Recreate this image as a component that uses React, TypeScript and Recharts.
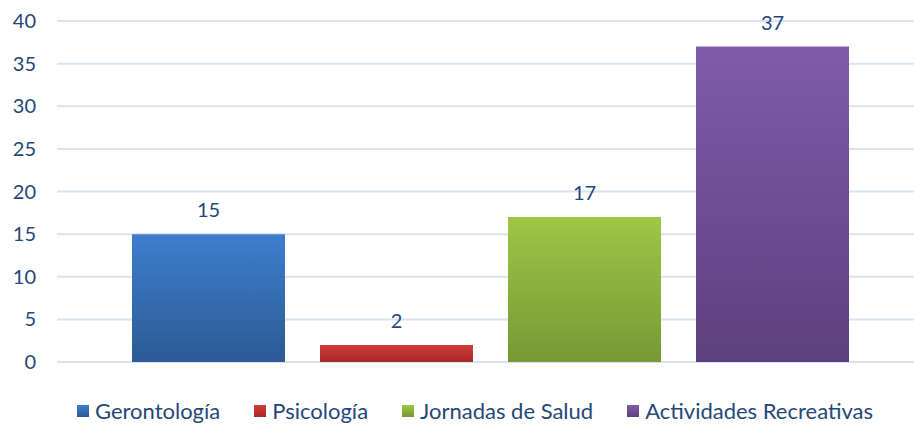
import { BarChart, Bar, XAxis, YAxis, CartesianGrid, Legend, LabelList } from 'recharts';

const seriesNames = ['Gerontología', 'Psicología', 'Jornadas de Salud', 'Actividades Recreativas'];
const seriesValues = [15, 2, 17, 37];
const yTicks = [0, 5, 10, 15, 20, 25, 30, 35, 40];

const gradients = [
    { id: 'gBlue', top: '#3D7ECC', bottom: '#2C5B95' },
    { id: 'gRed', top: '#D23C37', bottom: '#A52A27' },
    { id: 'gGreen', top: '#9EC646', bottom: '#769934' },
    { id: 'gPurple', top: '#7F5BA9', bottom: '#5D407F' },
];

const textColor = '#254878';
const font = 'Lato, "Open Sans", sans-serif';

const row: Record<string, string | number> = { name: 'Servicios' };
seriesNames.forEach((n, i) => {
    row[n] = seriesValues[i];
});
const chartData = [row];

// legend in series order (recharts sorts payload by name otherwise)
const LegendContent = () => {
    return (
        <div
            style={{
                height: 63,
                display: 'flex',
                alignItems: 'flex-end',
                paddingLeft: 77,
                boxSizing: 'border-box',
                paddingBottom: 1,
            }}
        >
            {seriesNames.map((name, idx) => (
                <div
                    key={`leg-${idx}`}
                    style={{ display: 'flex', alignItems: 'center', marginRight: 34 }}
                >
                    <span
                        style={{
                            width: 12,
                            height: 12,
                            marginRight: 6,
                            background: `linear-gradient(${gradients[idx].top}, ${gradients[idx].bottom})`,
                            display: 'inline-block',
                        }}
                    />
                    <span style={{ fontSize: 22, color: textColor, fontFamily: font }}>{name}</span>
                </div>
            ))}
        </div>
    );
};

const App = () => {
    return (
        <div
            style={{
                position: 'absolute',
                left: 0,
                top: 0,
                width: 914,
                height: 425,
                overflow: 'hidden',
                background: '#fff',
                fontFamily: font,
            }}
        >
            <BarChart
                width={923}
                height={425}
                data={chartData}
                margin={{ top: 21, right: 0, bottom: 0, left: 0 }}
                barSize={153}
                barGap={35}
            >
                <defs>
                    {gradients.map((g) => (
                        <linearGradient key={g.id} id={g.id} x1='0' y1='0' x2='0' y2='1'>
                            <stop offset='0%' stopColor={g.top} />
                            <stop offset='100%' stopColor={g.bottom} />
                        </linearGradient>
                    ))}
                </defs>
                <CartesianGrid vertical={false} stroke='#DAE3F1' strokeWidth={2} />
                <XAxis dataKey='name' hide />
                <YAxis
                    domain={[0, 40]}
                    ticks={yTicks}
                    axisLine={false}
                    tickLine={false}
                    width={57}
                    tickMargin={15}
                    tick={{ fill: textColor, fontSize: 20, fontFamily: font }}
                />
                <Legend verticalAlign='bottom' content={<LegendContent />} />
                {seriesNames.map((n, i) => (
                    <Bar key={n} dataKey={n} fill={`url(#${gradients[i].id})`} isAnimationActive={false}>
                        <LabelList
                            dataKey={n}
                            position='top'
                            offset={17}
                            fill={textColor}
                            fontSize={20}
                            fontFamily={font}
                        />
                    </Bar>
                ))}
            </BarChart>
        </div>
    );
};

export default App;
